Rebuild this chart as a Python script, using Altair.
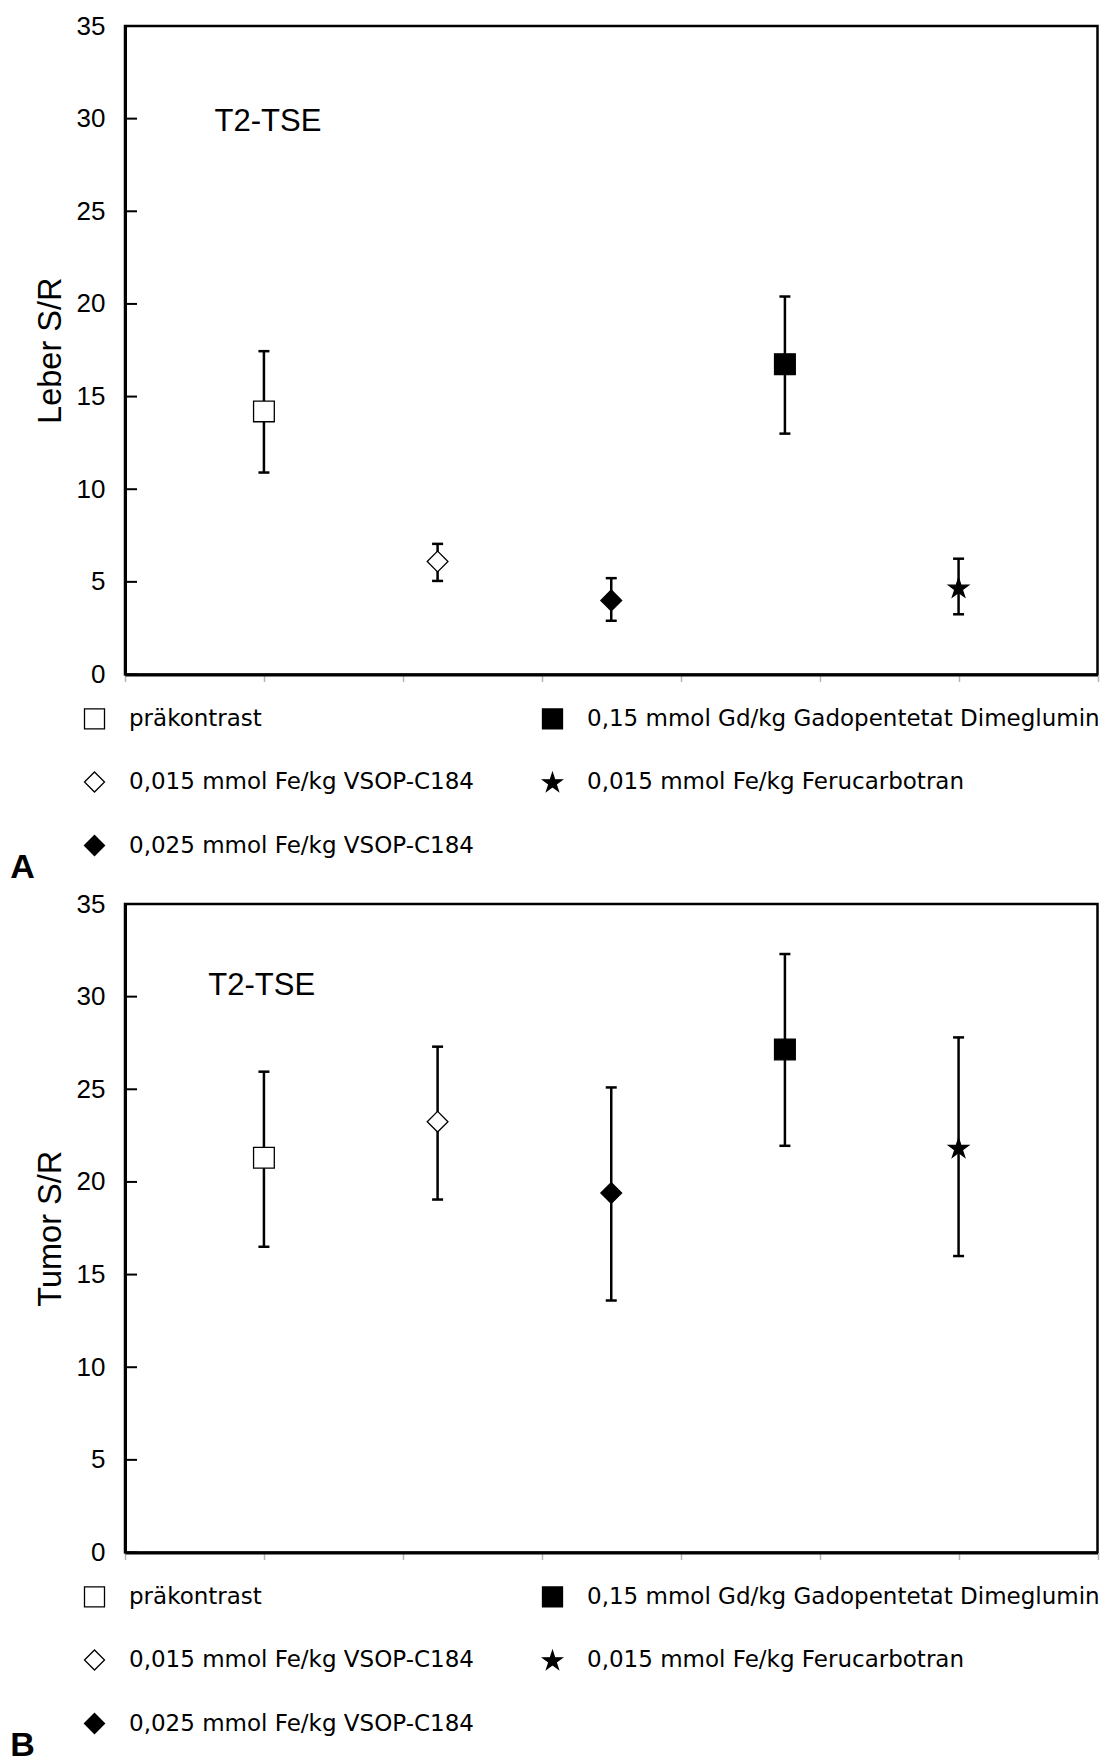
import altair as alt
import pandas as pd

# ---------------- data ----------------
groups = [
    "präkontrast",
    "0,015 mmol Fe/kg VSOP-C184",
    "0,025 mmol Fe/kg VSOP-C184",
    "0,15 mmol Gd/kg Gadopentetat Dimeglumin",
    "0,015 mmol Fe/kg Ferucarbotran",
]
x_pos = [1, 2.25, 3.5, 4.75, 6]

leber_mean = [14.2, 6.1, 4.0, 16.75, 4.7]
leber_low = [10.9, 5.05, 2.9, 13.0, 3.25]
leber_high = [17.45, 7.05, 5.2, 20.4, 6.25]

tumor_mean = [21.3, 23.25, 19.4, 27.15, 21.85]
tumor_low = [16.5, 19.05, 13.6, 21.95, 16.0]
tumor_high = [25.95, 27.3, 25.1, 32.3, 27.8]

y_ticks = [0, 5, 10, 15, 20, 25, 30, 35]
x_ticks = [0, 1, 2, 3, 4, 5, 6, 7]

STAR = ("M0,-0.905L0.225,-0.214L0.951,-0.214L0.363,0.214L0.588,0.905"
        "L0,0.477L-0.588,0.905L-0.363,0.214L-0.951,-0.214L-0.225,-0.214Z")

# legend fills column by column (3 rows): col 1 = first three, col 2 = last two
shape_range = ["square", "diamond", "diamond", "square", STAR]
fill_range = ["white", "white", "black", "black", "black"]
stroke_range = ["black"] * 5

FONT = "Liberation Sans"
W, H = 972.5, 648.5


def panel(mean, low, high, ytitle, note_xy, letter):
    df = pd.DataFrame({"group": groups, "x": x_pos, "mean": mean,
                       "low": low, "high": high})
    ticks_df = pd.DataFrame({"v": y_ticks})
    note_df = pd.DataFrame({"x": [note_xy[0]], "y": [note_xy[1]], "t": ["T2-TSE"]})

    xs = alt.Scale(domain=[0, 7], nice=False, zero=False)
    ys = alt.Scale(domain=[0, 35], nice=False)
    xax = alt.Axis(values=x_ticks, labels=False, title=None, grid=False,
                   tickSize=7, tickColor="#b5b5b5", tickWidth=1.5,
                   domainColor="black", domainWidth=3)
    yax = alt.Axis(values=y_ticks, title=ytitle, grid=False, ticks=False,
                   tickSize=0, labelPadding=20, labelFontSize=26,
                   labelFont=FONT, labelColor="black", titleFont=FONT,
                   titleFontSize=32.5, titleFontWeight="normal",
                   titlePadding=9, titleColor="black",
                   domainColor="black", domainWidth=3)

    def X(f):
        return alt.X(f, type="quantitative", scale=xs, axis=xax)

    def Y(f):
        return alt.Y(f, type="quantitative", scale=ys, axis=yax)

    leg = alt.Legend(title=None, orient="none", legendX=-42, legendY=681,
                     columns=2, symbolSize=400, symbolStrokeColor="black",
                     symbolStrokeWidth=1.3, labelFont="DejaVu Sans",
                     labelFontSize=23, labelColor="black", labelOffset=23,
                     labelLimit=1000, rowPadding=36.5, columnPadding=65,
                     padding=0)

    base = alt.Chart(df)
    inner_ticks = alt.Chart(ticks_df).mark_rule(color="black", strokeWidth=2).encode(
        y=Y("v"), x=alt.value(0), x2=alt.value(12))
    rules = base.mark_rule(color="black", strokeWidth=2.5).encode(
        x=X("x"), y=Y("low"), y2="high")
    cap_lo = base.mark_tick(orient="horizontal", size=11, thickness=2.5,
                            color="black", opacity=1).encode(x=X("x"), y=Y("low"))
    cap_hi = base.mark_tick(orient="horizontal", size=11, thickness=2.5,
                            color="black", opacity=1).encode(x=X("x"), y=Y("high"))
    points = base.mark_point(filled=True, size=430, strokeWidth=1.3,
                             opacity=1).encode(
        x=X("x"), y=Y("mean"),
        shape=alt.Shape("group:N", scale=alt.Scale(domain=groups, range=shape_range), legend=leg),
        fill=alt.Fill("group:N", scale=alt.Scale(domain=groups, range=fill_range), legend=leg),
        stroke=alt.Stroke("group:N", scale=alt.Scale(domain=groups, range=stroke_range), legend=leg),
    )
    note = alt.Chart(note_df).mark_text(align="left", baseline="middle",
                                        fontSize=31, font=FONT, color="black").encode(
        x=X("x"), y=Y("y"), text="t:N")

    return alt.layer(inner_ticks, rules, cap_lo, cap_hi, points, note).properties(
        width=W, height=H,
        title=alt.TitleParams(text=letter, orient="bottom", anchor="start",
                              frame="group", dx=-114.7, offset=-8,
                              fontSize=34, fontWeight="bold", font=FONT,
                              color="black"),
    )


pA = panel(leber_mean, leber_low, leber_high, "Leber S/R", (0.645, 29.8), "A")
pB = panel(tumor_mean, tumor_low, tumor_high, "Tumor S/R", (0.60, 30.55), "B")

chart = alt.vconcat(pA, pB, spacing=2).resolve_scale(
    x="independent", y="independent", shape="independent",
    fill="independent", stroke="independent"
).resolve_legend(shape="independent", fill="independent", stroke="independent").properties(
    padding={"left": 1, "top": 3, "right": 0, "bottom": 0}
).configure_view(stroke="black", strokeWidth=2.5)

chart.save("out.html", embed_options={"renderer": "svg", "actions": False})
